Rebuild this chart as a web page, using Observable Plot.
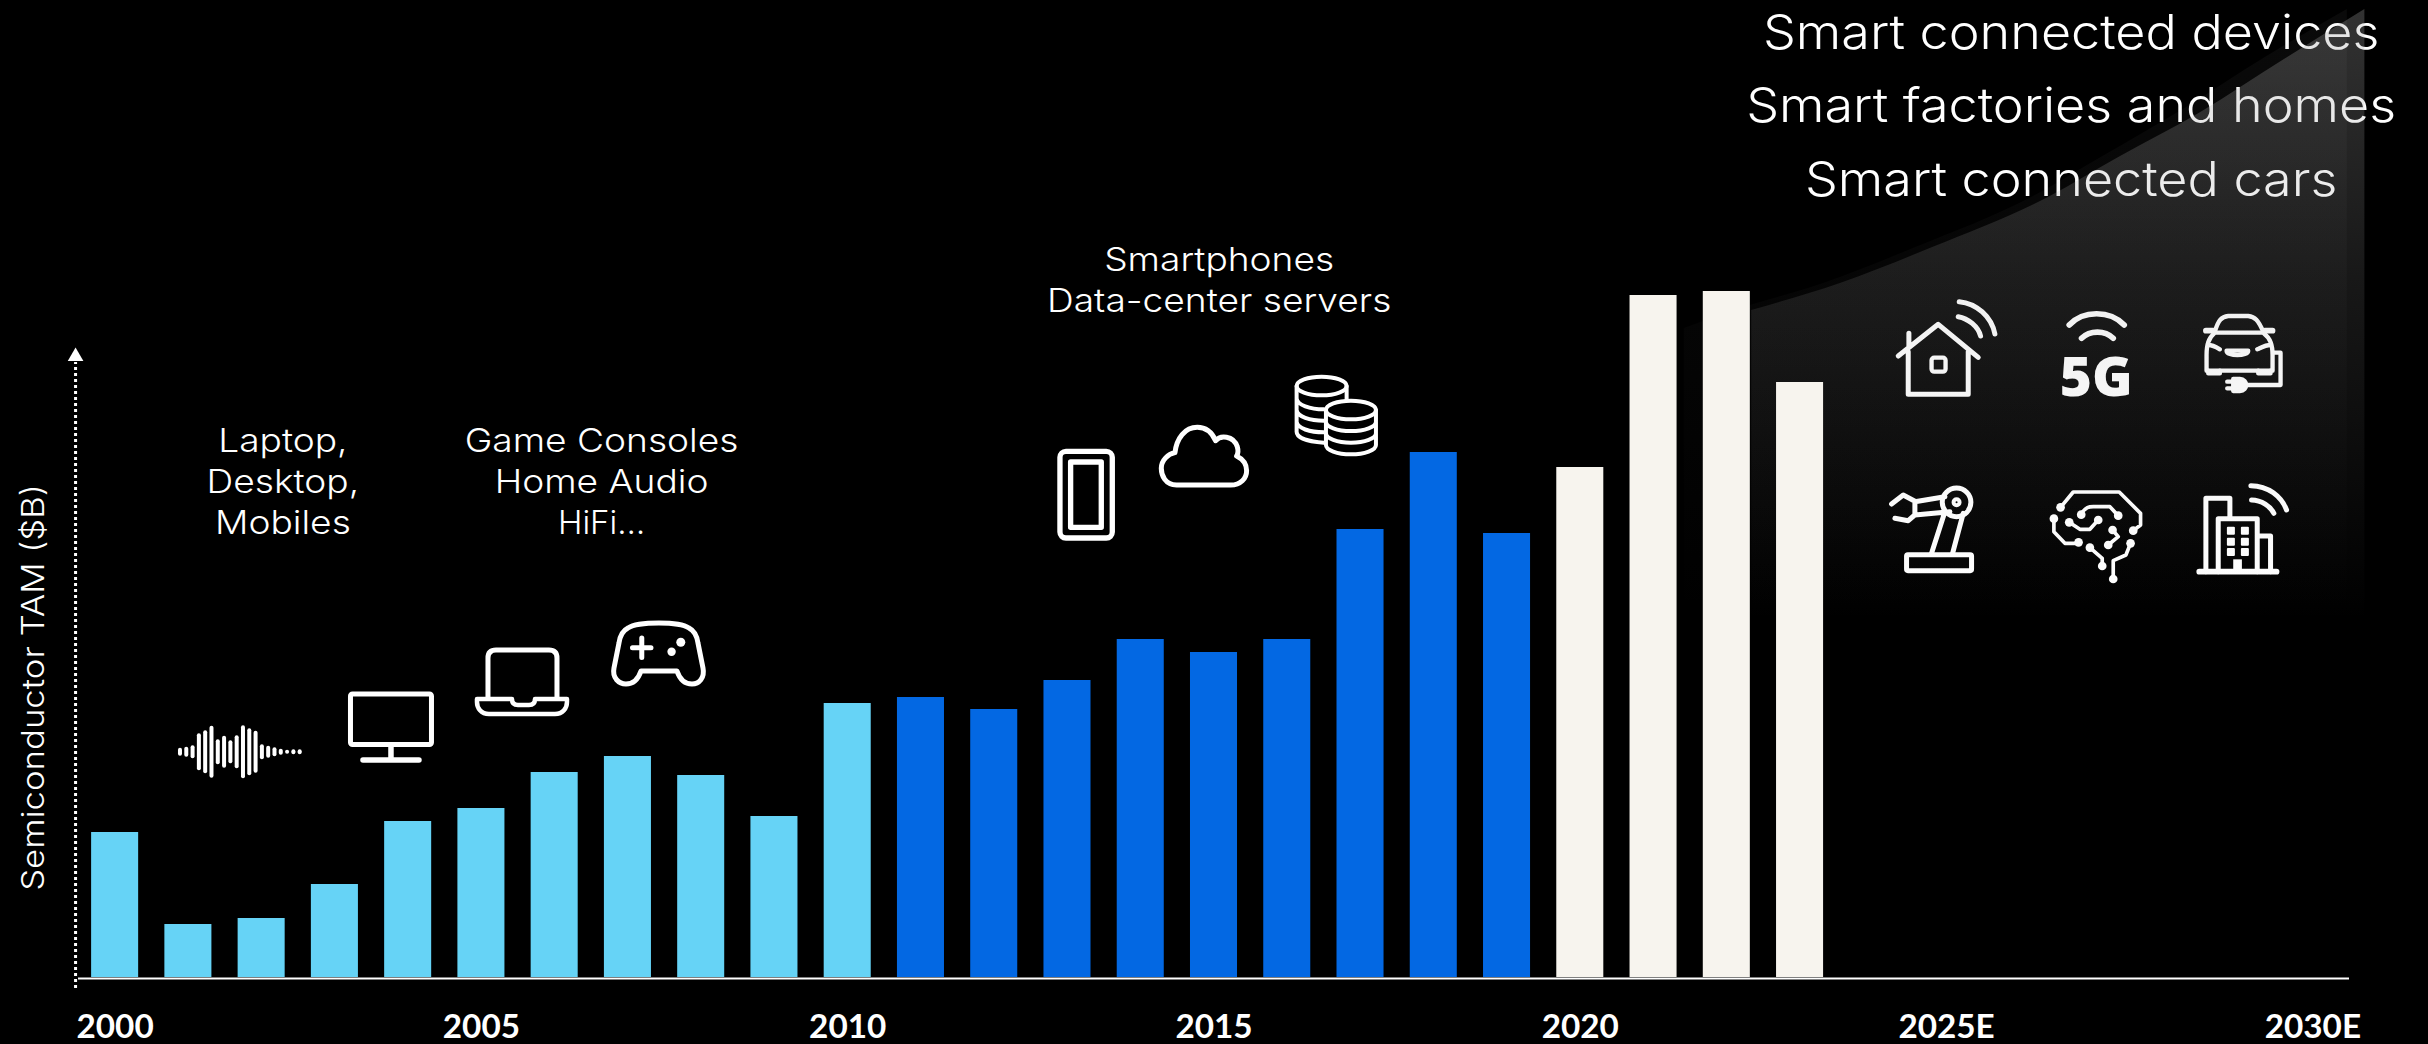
<!DOCTYPE html>
<html>
<head>
<meta charset="utf-8">
<style>
  html, body { margin: 0; padding: 0; background: #000; overflow: hidden; }
  svg { display: block; }
</style>
<script src="https://cdn.jsdelivr.net/npm/d3@7"></script>
<script src="https://cdn.jsdelivr.net/npm/@observablehq/plot@0.6"></script>
</head>
<body>
<div id="chart"></div>
<script>
// Semiconductor market by year; no scale is printed, so values are relative bar heights.
const years = [2000, 2001, 2002, 2003, 2004, 2005, 2006, 2007, 2008, 2009, 2010, 2011,
               2012, 2013, 2014, 2015, 2016, 2017, 2018, 2019, 2020, 2021, 2022, 2023];
const tam = [145, 53, 59, 93, 156, 169, 205, 221, 202, 161, 274, 280,
             268, 297, 338, 325, 338, 448, 525, 444, 510, 682, 686, 595];
const eras = ["pc", "pc", "pc", "pc", "pc", "pc", "pc", "pc", "pc", "pc", "pc",
              "mobile", "mobile", "mobile", "mobile", "mobile", "mobile", "mobile", "mobile", "mobile",
              "connected", "connected", "connected", "connected"];

// Projected growth: the main wedge and the fainter one just above it.
const wedgeYears = [2022.34, 2023.55, 2024.81, 2026.39, 2027.35, 2028.47, 2029.59, 2030.71];
const wedgeTam = [667, 694, 730, 780, 820, 865, 917, 968];
const haloYears = [2021.42, 2022.11, 2023.32, 2024.58, 2026.16, 2027.11, 2028.23, 2029.35, 2030.47];
const haloTam = [649, 667, 694, 730, 780, 820, 868, 920, 968];

const tickYears = [2000, 2005, 2010, 2015, 2020, 2025, 2030];
const axisTitle = "Semiconductor TAM ($B)";
const pcLines = ["Laptop,", "Desktop,", "Mobiles"];
const consoleLines = ["Game Consoles", "Home Audio", "HiFi…"];
const cloudLines = ["Smartphones", "Data-center servers"];
const smartLines = ["Smart connected devices", "Smart factories and homes", "Smart connected cars"];
const waveHeights = [8, 10, 13, 37, 43, 52, 25, 32, 23, 33, 53, 47, 42, 15, 12, 9, 6, 4, 3, 3];

const bars = years.map((year, i) => ({year, tam: tam[i], era: eras[i]}));
const wedge = wedgeYears.map((year, i) => ({year, tam: wedgeTam[i]}));
const halo = haloYears.map((year, i) => ({year, tam: haloTam[i]}));

const FONT = "Inter, 'Noto Sans', sans-serif";

// Vertical fades for the two wedges, in frame coordinates.
function gradients() {
  const defs = d3.create("svg:defs");
  const add = (id, stops) => {
    const g = defs.append("linearGradient").attr("id", id)
      .attr("gradientUnits", "userSpaceOnUse")
      .attr("x1", 0).attr("x2", 0).attr("y1", 0).attr("y2", 620);
    for (const [offset, alpha] of stops) {
      g.append("stop").attr("offset", offset).attr("stop-color", "#aaaaaa").attr("stop-opacity", alpha);
    }
  };
  add("wedge-fade", [[0, 0.3], [0.45, 0.14], [1, 0]]);
  add("halo-fade", [[0, 0.06], [0.5, 0.03], [1, 0]]);
  return defs.node();
}

// Line-art pictograms, each group anchored through the chart's scales.
function icon(anchorYear, anchorTam, k, markup, strokeWidth) {
  return (index, {x, y}) => {
    const g = document.createElementNS("http://www.w3.org/2000/svg", "g");
    g.setAttribute("transform", `translate(${x(anchorYear)},${y(anchorTam)}) scale(${k})`);
    g.setAttribute("fill", "none");
    g.setAttribute("stroke", "#fff");
    g.setAttribute("stroke-width", strokeWidth);
    g.setAttribute("stroke-linecap", "round");
    g.setAttribute("stroke-linejoin", "round");
    g.innerHTML = markup;
    return g;
  };
}

const waveform = waveHeights.map((h, i) => {
  const cx = 180 + i * 6.3;
  return `<path d="M${cx} ${751.7 - h / 2 + 2}V${751.7 + h / 2 - 2}" stroke-width="4"/>`;
}).join("");

const earlyDevices = waveform + `
  <rect x="350.5" y="694" width="81" height="50.5" rx="2"/>
  <path d="M391 745V760M363 760H419" stroke-width="5.5"/>
  <path d="M488 697V658q0-8 8-8H549q8 0 8 8V697"/>
  <path d="M477 699H512c0 4 2 6 6 6H529c4 0 6-2 6-6H567V702c0 6-4 12-12 12H489c-8 0-12-6-12-12Z" stroke-width="4.5"/>
  <path d="M659 623C645 623 634 624 628 628C622 631 620 636 619 643L614 668C612 678 619 684 626 684C633 684 638 680 641 671H677C680 680 685 684 692 684C699 684 705 678 703 668L698 643C697 636 695 631 689 628C683 624 672 623 659 623Z"/>
  <path d="M632.5 647.7H651M641.8 638V657.5"/>
  <circle cx="680.8" cy="642.3" r="4.5" fill="#fff" stroke="none"/>
  <circle cx="671.6" cy="651.7" r="4.2" fill="#fff" stroke="none"/>`;

const serverIcons = `
  <rect x="120" y="304" width="157" height="260" rx="18" stroke-width="16"/>
  <rect x="152" y="336" width="92" height="196" stroke-width="16"/>
  <path d="M470 405C435 405 424 375 424 355C424 330 445 312 465 308C470 265 495 232 532 232C555 232 575 245 587 272C600 255 640 255 652 290C655 300 655 310 650 318C670 328 680 345 680 362C680 385 662 405 632 405Z" stroke-width="15"/>
  <g stroke-width="12">
    <ellipse cx="905" cy="108" rx="75" ry="28"/>
    <path d="M830 108V245C830 265 870 275 912 278M830 145C832 165 870 178 912 178M830 180C832 200 870 212 912 212M830 215C832 235 870 247 912 247M980 108V150"/>
    <ellipse cx="993" cy="180" rx="75" ry="28"/>
    <path d="M918 180V285A75 28 0 0 0 1068 285V180M918 215A75 28 0 0 0 1068 215M918 250A75 28 0 0 0 1068 250"/>
  </g>`;

const smartIcons = `
  <path d="M145 228L265 133L385 232M177 160V200M175 215V343H355V215M325 110C355 115 385 140 392 168M328 65C380 70 425 110 435 162"/>
  <rect x="245" y="233" width="42" height="42" rx="8" stroke-width="13"/>
  <path d="M658 135C700 90 780 90 823 135" stroke-width="17"/>
  <path d="M695 175C720 150 765 150 790 175" stroke-width="17"/>
  <text x="739" y="348" text-anchor="middle" font-family="'Open Sans', sans-serif" font-weight="800" font-size="165" fill="#fff" stroke="none">5G</text>
  <g stroke-width="13">
    <path d="M1095 155C1105 120 1115 110 1135 108H1195C1215 110 1225 120 1240 155"/>
    <path d="M1068 152H1090M1245 152H1268" stroke-width="17"/>
    <path d="M1095 158H1240C1262 175 1268 195 1268 225V272H1070V225C1070 195 1075 175 1095 158Z"/>
    <path d="M1075 195C1090 195 1105 205 1110 208M1262 195C1245 195 1230 205 1222 208"/>
    <path d="M1130 212H1195C1195 230 1130 230 1130 212Z"/>
    <path d="M1075 272V280H1110V272M1225 272V280H1262V272"/>
    <path d="M1270 218H1292V315H1190M1132 305H1150M1132 325H1150"/>
    <path d="M1150 297H1170C1195 297 1195 333 1170 333H1150Z" fill="#fff"/>
  </g>
  <rect x="170" y="824" width="195" height="48" rx="4"/>
  <path d="M245 820L285 695M308 820L340 700M195 665L285 650M195 705L300 695M195 665V705M125 672L160 645L198 665M135 715L175 722L198 702"/>
  <circle cx="320" cy="667" r="43"/>
  <circle cx="320" cy="667" r="9" stroke-width="12"/>
  <g stroke-width="11">
    <path d="M632 682L670 636H808L872 700V735L850 752M612 716V755L645 790H686M658 727L690 748H720L745 720M694 704C705 680 720 680 730 680H780L805 707M788 750L805 770L775 795M720 803L757 835V858M842 790L828 825L790 842V897"/>
    <g fill="#fff" stroke="none">
      ${[[632,682],[612,716],[658,727],[694,704],[805,707],[745,720],[788,750],[850,752],[842,790],[775,795],[720,803],[686,787],[757,858],[790,897]]
        .map(([a, b]) => `<circle cx="${a}" cy="${b}" r="13"/>`).join("")}
    </g>
  </g>
  <path d="M1048 875H1280" stroke-width="17"/>
  <path d="M1068 875V655H1140V710M1105 875V716H1222V875M1225 768H1262V875M1205 660C1235 660 1262 680 1272 700M1203 617C1255 617 1295 650 1310 690"/>
  <g fill="#fff" stroke="none">
    ${[1131, 1173].flatMap(a => [740, 773, 804].map(b => `<rect x="${a}" y="${b}" width="24" height="24" rx="3"/>`)).join("")}
    <rect x="1150" y="838" width="26" height="37"/>
  </g>`;

const textLines = (lines, x, baselines, size, weight) =>
  Plot.text(lines, {
    text: d => d,
    x: () => x,
    y: (d, i) => baselines[i],
    lineAnchor: "bottom",
    fontSize: size,
    fontWeight: weight,
    fontFamily: FONT,
    fill: "#fff"
  });

const chart = Plot.plot({
  width: 2428,
  height: 1044,
  marginTop: 0,
  marginBottom: 67,
  marginLeft: 78,
  marginRight: 79,
  style: {background: "#000", color: "#fff"},
  x: {domain: [1999.5, 2030.5], axis: null, label: null},
  y: {domain: [0, 977], axis: null},
  color: {domain: ["pc", "mobile", "connected"], range: ["#66D3F6", "#0368E3", "#F7F4EE"]},
  marks: [
    gradients,
    textLines(pcLines, 2002.29, [526, 485, 444], 33, 350),
    textLines(consoleLines, 2006.64, [526, 485, 444], 33, 350),
    textLines(cloudLines, 2015.07, [707, 665.5], 33, 350),
    textLines(smartLines, 2026.7, [929, 855.5, 782], 48, 350),
    icon(1998.435, 977, 1, earlyDevices, 5),
    icon(2012.358, 627, 1 / 3, serverIcons, 15),
    icon(2023.687, 697, 1 / 3, smartIcons, 15),
    Plot.areaY(halo, {x: "year", y1: () => 0, y2: "tam", curve: "monotone-x", fill: "url(#halo-fade)"}),
    Plot.areaY(wedge, {x: "year", y1: () => 0, y2: "tam", curve: "monotone-x", fill: "url(#wedge-fade)"}),
    Plot.rect(bars, {
      x1: d => d.year - 0.321,
      x2: d => d.year + 0.321,
      y1: () => 0,
      y2: "tam",
      fill: "era"
    }),
    Plot.ruleY([-1], {stroke: "#fff", strokeWidth: 2}),
    Plot.ruleX([1999.46], {y1: () => -11, y2: () => 615, stroke: "#fff", strokeWidth: 3, strokeDasharray: "3 3"}),
    Plot.dot([1999.46], {x: d => d, y: () => 621, symbol: "triangle", r: 5.8, fill: "#fff"}),
    Plot.text([axisTitle], {
      text: d => d,
      x: () => 1998.9,
      y: () => 290,
      rotate: -90,
      fontSize: 31,
      fontWeight: 300,
      fontFamily: FONT,
      fill: "#fff"
    }),
    Plot.axisX({
      ticks: tickYears,
      tickSize: 0,
      tickPadding: 38,
      label: null,
      tickFormat: d => (d > 2020 ? `${d}E` : `${d}`),
      fontSize: 32,
      fontWeight: 700,
      fontFamily: "Lato, sans-serif",
      fill: "#fff"
    })
  ]
});

document.getElementById("chart").append(chart);

// The headline face runs wider than the installed sans: stretch the glyphs along the baseline.
const widen = text => {
  if (text === "HiFi…") return 1;
  if (smartLines.includes(text)) return 1.085;
  if ([...pcLines, ...consoleLines, ...cloudLines].includes(text)) return 1.125;
  if (text === axisTitle) return 1.12;
  if (/^20\d\d/.test(text)) return 1.04;
  return 1;
};
for (const node of chart.querySelectorAll("text")) {
  const factor = widen(node.textContent);
  if (factor !== 1) {
    node.setAttribute("textLength", node.getComputedTextLength() * factor);
    node.setAttribute("lengthAdjust", "spacingAndGlyphs");
  }
}
</script>
</body>
</html>
